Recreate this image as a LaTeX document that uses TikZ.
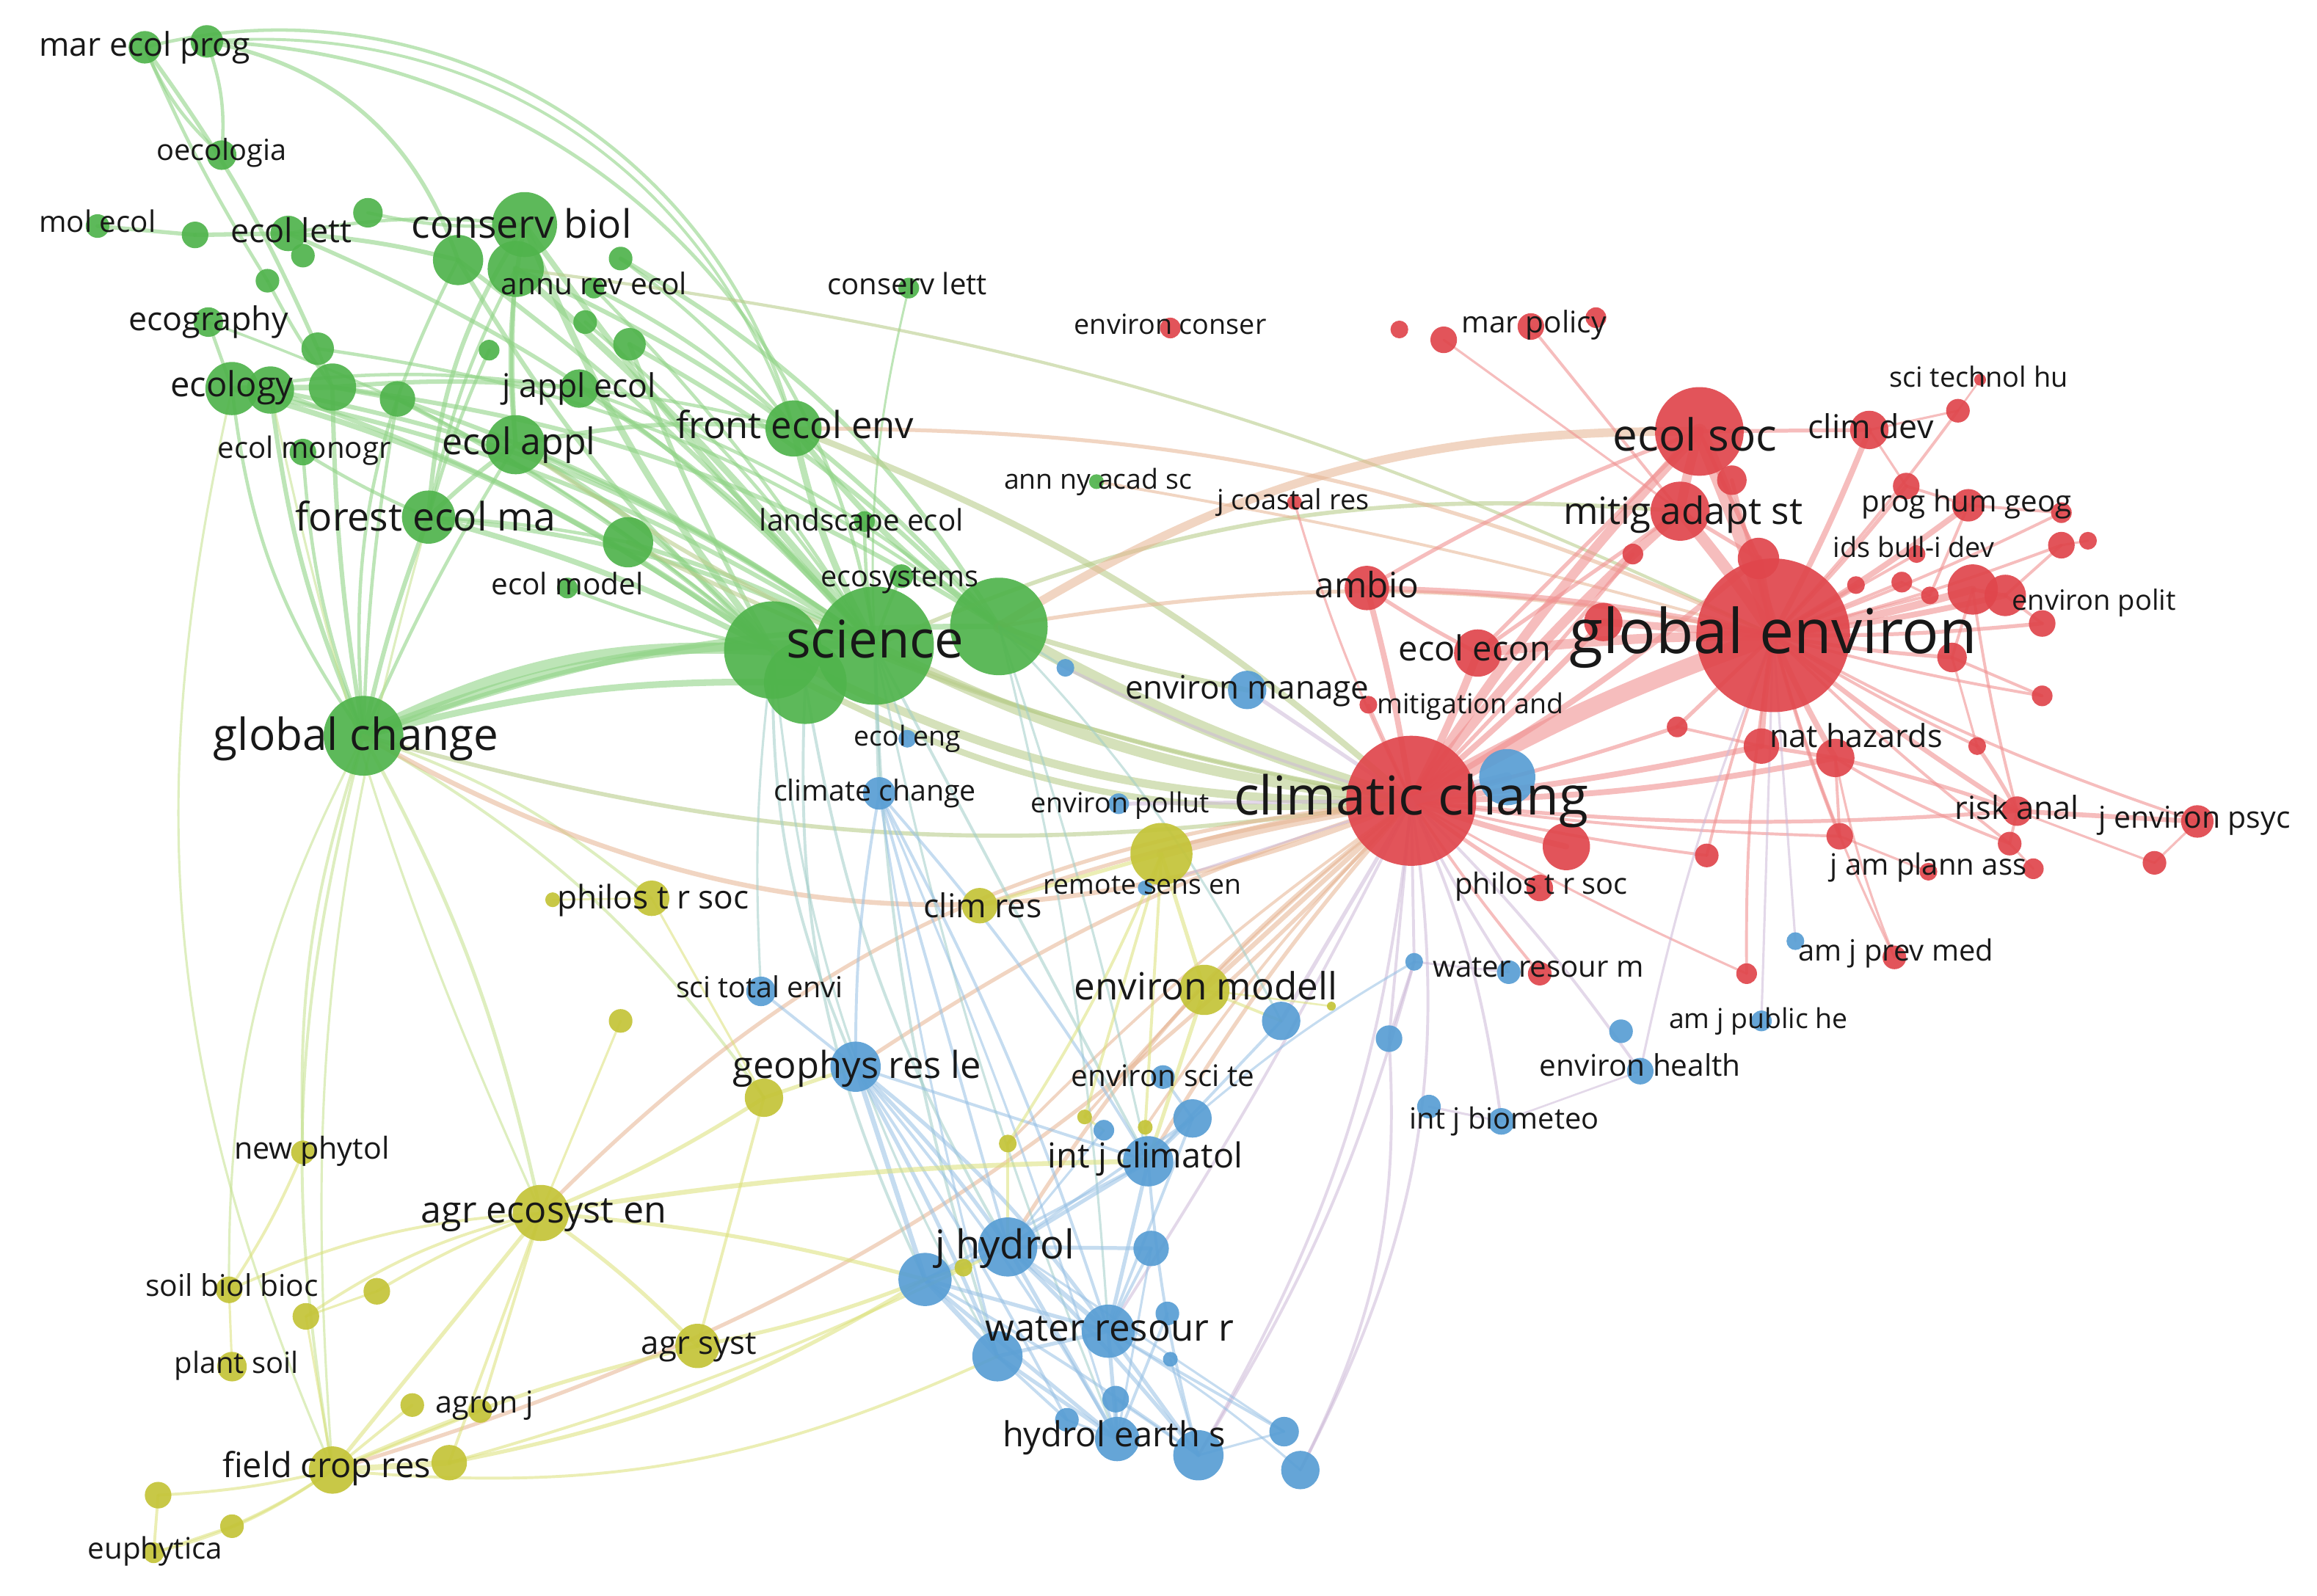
\documentclass[tikz,border=0pt]{standalone}
\usepackage{fontspec}
\setmainfont{Open Sans}
\definecolor{cG}{RGB}{80,180,76}
\definecolor{cR}{RGB}{224,70,76}
\definecolor{cB}{RGB}{88,158,212}
\definecolor{cY}{RGB}{196,196,56}
\definecolor{eG}{RGB}{145,212,135}
\definecolor{eGY}{RGB}{195,225,140}
\definecolor{eO}{RGB}{185,205,140}
\definecolor{eT}{RGB}{230,180,145}
\definecolor{eTe}{RGB}{160,205,200}
\definecolor{eR}{RGB}{240,145,145}
\definecolor{eL}{RGB}{205,185,215}
\definecolor{eB}{RGB}{150,192,228}
\definecolor{eY}{RGB}{220,225,120}
\definecolor{labc}{RGB}{24,24,24}
\pgfdeclarelayer{edges}
\pgfsetlayers{edges,main}
\tikzset{
  dot/.style={circle,inner sep=0pt,outer sep=0pt,fill opacity=0.92},
  lab/.style={anchor=base,inner sep=0pt,text=labc},
  ed/.style={line cap=round,draw opacity=0.55}
}
\newcommand\C[4]{\node[dot,fill=#4,minimum size={2*#3pt}] (#1) at (#2) {};}
\newcommand\fitt[2]{\setbox0=\hbox{\fontsize{10pt}{12pt}\selectfont #2}%
  \pgfmathsetmacro\lfs{10*#1/\the\wd0}%
  \fontsize{\lfs pt}{\lfs pt}\selectfont\raisebox{-0.5ex}{#2}}
\newcommand\lbl[4]{\node[lab] (#1) at (#2) {\fitt{#3}{#4}};}
\newcommand\edges[2]{\foreach \a/\b/\w/\c in {#2}
 {\draw[line width={\w*#1pt}] (\a.center) to[bend right=\c] (\b.center);}}
\begin{document}
\begin{tikzpicture}[x=1pt,y=-1pt]
\useasboundingbox (0,0) rectangle (1568,1080);
% ---------- green ----------
\C{g1}{98,32}{11}{cG}\C{g2}{140,28}{11}{cG}\C{g3}{150,105}{10}{cG}
\C{g4}{66,153}{8}{cG}\C{g5}{132,159}{9}{cG}\C{g6}{195,158}{12}{cG}
\C{g7}{205,173}{8}{cG}\C{g8}{249,144}{10}{cG}\C{g9}{181,190}{8}{cG}
\C{g10}{355,152}{22}{cG}\C{g11}{310,176}{17}{cG}\C{g12}{349,182}{19}{cG}
\C{g13}{420,175}{8}{cG}\C{g14}{402,195}{7}{cG}\C{g15}{396,218}{8}{cG}
\C{g16}{426,233}{11}{cG}\C{g17}{331,237}{7}{cG}\C{g18}{141,218}{10}{cG}
\C{g19}{215,236}{11}{cG}\C{g20}{157,263}{18}{cG}\C{g21}{183,264}{16}{cG}
\C{g22}{225,262}{16}{cG}\C{g23}{269,270}{12}{cG}\C{g24}{392,263}{13}{cG}
\C{g25}{205,306}{9}{cG}\C{g26}{349,301}{20}{cG}\C{g27}{537,290}{19}{cG}
\C{g28}{290,350}{18}{cG}\C{g29}{425,367}{17}{cG}\C{g30}{384,398}{7}{cG}
\C{g31}{585,353}{7}{cG}\C{g32}{610,390}{8}{cG}
\C{g33}{523,440}{33}{cG}\C{g34}{545,462}{28}{cG}\C{g35}{592,437}{40}{cG}
\C{g36}{676,424}{33}{cG}\C{g37}{246,498}{27}{cG}\C{g38}{615,195}{7}{cG}
\C{g39}{742,326}{5}{cG}
% ---------- blue ----------
\C{b1}{721,452}{6}{cB}\C{b2}{614,500}{6}{cB}\C{b3}{595,537}{11}{cB}
\C{b4}{757,544}{7}{cB}\C{b5}{775,601}{5}{cB}\C{b6}{844,467}{13}{cB}
\C{b7}{1020,526}{19}{cB}\C{b8}{515,671}{10}{cB}\C{b9}{579,722}{17}{cB}
\C{b10}{867,691}{13}{cB}\C{b11}{940,703}{9}{cB}\C{b12}{957,651}{6}{cB}
\C{b13}{1021,658}{8}{cB}\C{b14}{747,765}{7}{cB}\C{b15}{787,729}{8}{cB}
\C{b16}{807,757}{13}{cB}\C{b17}{777,786}{17}{cB}\C{b18}{682,844}{20}{cB}
\C{b19}{626,866}{18}{cB}\C{b20}{779,845}{12}{cB}\C{b21}{750,901}{18}{cB}
\C{b22}{675,918}{17}{cB}\C{b23}{790,889}{8}{cB}\C{b24}{792,920}{5}{cB}
\C{b25}{755,947}{9}{cB}\C{b26}{722,961}{8}{cB}\C{b27}{756,974}{15}{cB}
\C{b28}{811,985}{17}{cB}\C{b29}{869,969}{10}{cB}\C{b30}{880,995}{13}{cB}
\C{b31}{1215,637}{6}{cB}\C{b32}{1097,698}{8}{cB}\C{b33}{1192,691}{7}{cB}
\C{b34}{1110,725}{9}{cB}\C{b35}{967,749}{8}{cB}\C{b36}{1016,759}{9}{cB}
% ---------- yellow ----------
\C{y1}{786,578}{21}{cY}\C{y2}{441,608}{12}{cY}\C{y3}{374,609}{5}{cY}
\C{y4}{663,613}{12}{cY}\C{y5}{815,670}{17}{cY}\C{y6}{901,681}{3}{cY}
\C{y7}{420,691}{8}{cY}\C{y8}{517,743}{13}{cY}\C{y9}{682,774}{6}{cY}
\C{y10}{734,756}{5}{cY}\C{y11}{775,763}{5}{cY}\C{y12}{652,858}{6}{cY}
\C{y13}{205,780}{8}{cY}\C{y14}{366,821}{19}{cY}\C{y15}{155,873}{9}{cY}
\C{y16}{255,874}{9}{cY}\C{y17}{207,891}{9}{cY}\C{y18}{157,925}{10}{cY}
\C{y19}{472,911}{15}{cY}\C{y20}{279,951}{8}{cY}\C{y21}{325,955}{8}{cY}
\C{y22}{225,995}{16}{cY}\C{y23}{304,990}{12}{cY}\C{y24}{107,1012}{9}{cY}
\C{y25}{157,1033}{8}{cY}\C{y26}{104,1051}{7}{cY}
% ---------- red ----------
\C{r1}{792,222}{7}{cR}\C{r2}{947,223}{6}{cR}\C{r3}{977,230}{9}{cR}
\C{r4}{1036,221}{9}{cR}\C{r5}{1080,215}{7}{cR}\C{r6}{1150,292}{30}{cR}
\C{r7}{1325,278}{8}{cR}\C{r8}{1265,291}{13}{cR}\C{r9}{1137,346}{20}{cR}
\C{r10}{1172,325}{10}{cR}\C{r11}{1290,329}{9}{cR}\C{r12}{1332,342}{11}{cR}
\C{r13}{1395,347}{7}{cR}\C{r14}{1190,378}{14}{cR}\C{r15}{1105,375}{7}{cR}
\C{r16}{1297,375}{6}{cR}\C{r17}{1395,369}{9}{cR}\C{r18}{1413,366}{6}{cR}
\C{r19}{1256,396}{6}{cR}\C{r20}{1287,394}{7}{cR}\C{r21}{1306,403}{6}{cR}
\C{r22}{1335,399}{17}{cR}\C{r23}{1357,403}{14}{cR}\C{r24}{1382,422}{9}{cR}
\C{r25}{1321,445}{10}{cR}\C{r26}{1382,471}{7}{cR}\C{r27}{925,398}{15}{cR}
\C{r28}{1200,430}{52}{cR}\C{r29}{1085,421}{13}{cR}\C{r30}{1000,442}{16}{cR}
\C{r31}{926,477}{6}{cR}\C{r32}{955,542}{44}{cR}\C{r33}{1135,492}{7}{cR}
\C{r34}{1192,505}{12}{cR}\C{r35}{1242,513}{13}{cR}\C{r36}{1338,505}{6}{cR}
\C{r37}{1060,573}{16}{cR}\C{r38}{1155,579}{8}{cR}\C{r39}{1245,566}{9}{cR}
\C{r40}{1365,549}{10}{cR}\C{r41}{1360,571}{8}{cR}\C{r42}{1487,556}{11}{cR}
\C{r43}{1458,584}{8}{cR}\C{r44}{1305,590}{6}{cR}\C{r45}{1376,588}{7}{cR}
\C{r46}{1042,601}{9}{cR}\C{r47}{1042,659}{8}{cR}\C{r48}{1182,659}{7}{cR}
\C{r49}{1282,648}{8}{cR}\C{r50}{876,340}{5}{cR}\C{r51}{1340,257}{4}{cR}
% ---------- edges ----------
\begin{pgfonlayer}{edges}
\fill[white] (0,0) rectangle (1568,1080);
\begin{scope}[ed,draw=eG,draw opacity=0.6]
\edges{1.5}{g1/g3/1.5/12,g2/g3/1.5/-12,g1/g19/1.8/-6,g1/g9/1.5/4,g2/g11/1.8/-30,g2/g35/1.6/-40,g1/g27/1.5/-45,g2/g27/1.3/-38,
 g4/g5/1.8/0,g5/g6/2/0,g6/g11/2/-5,g6/g10/1.5/-8,g8/g10/1.5/8,g6/g35/1.8/-12,g9/g22/1.5/4,g18/g20/1.5/0,g19/g22/1.5/0,
 g20/g22/2.5/0,g22/g24/2/-5,g20/g24/1.5/-8,g22/g23/2/0,g23/g35/2/-8,g20/g33/2.5/-10,g21/g35/2/-12,g22/g36/2/-12,g24/g35/2/-8,
 g24/g36/1.5/-10,g26/g33/2.5/-8,g26/g35/2/-6,g28/g33/2.5/-6,g28/g35/2/-10,g29/g35/2/-6,g16/g36/2/-8,g13/g36/2/-14,g14/g27/1.8/-8,
 g15/g35/1.5/-8,g10/g33/3/8,g10/g35/2.5/4,g11/g33/2/8,g12/g35/3/-5,g12/g36/2/-12,g10/g28/2/14,g12/g28/1.5/8,g11/g37/1.5/16,
 g21/g37/2/8,g20/g37/1.5/14,g22/g37/2/4,g17/g28/1.5/4,g12/g26/2/4,g10/g26/2/8,g24/g27/1.5/-4,g26/g27/2/-8,g26/g28/2/4,
 g27/g35/3/8,g27/g36/2.5/8,g31/g35/1.5/4,g32/g35/1.5/4,g30/g33/1.5/4,g37/g33/5/-15,g37/g35/4/-12,g37/g36/2.5/-10,g37/g34/3/-8,
 g28/g37/2/4,g25/g37/1.5/8,g25/g28/1.5/4,g23/g37/1.5/4,g38/g35/1/8,g26/g37/1.5/4,g29/g28/1.5/4,g11/g35/2/-6,g20/g35/2/-10,
 g18/g33/1.2/-10,g19/g36/1.5/-14,g16/g33/2/4,g13/g27/1.5/-8,g21/g33/2/-8,g23/g33/2/-6,g14/g35/1.5/-6}
\end{scope}
\begin{scope}[ed,draw=eGY]
\edges{1.3}{g37/y13/1.5/10,g37/y14/1.8/-8,g37/y22/1.5/12,g37/y15/1.2/14,g37/y8/1.5/-12,g37/y2/1.5/-10,g20/y22/1.2/18,g28/y22/1.2/10,g21/y14/1.2/6}
\end{scope}
\begin{scope}[ed,draw=eO,draw opacity=0.6]
\edges{1.4}{g35/r32/5/10,g36/r32/6/6,g33/r32/4/14,g34/r32/3/16,g27/r32/3/-10,g36/b6/2.5/3,g35/r9/2/-14,
 g12/r28/1.5/-9,g29/r32/2/8,g26/r32/2/12,g37/r32/2/12}
\end{scope}
\begin{scope}[ed,draw=eT]
\edges{1.3}{g36/r6/4.5/-16,g37/r32/2.5/26,g39/r28/1.5/-3,g27/r28/2/-12,r32/y1/5/3,r32/y5/2.5/0,r32/y4/2/5,
 r32/y14/2/20,y22/r32/2/15,r32/y9/1.5/5,r32/y11/1.5/5,r32/y10/1.5/5,r32/b17/2/5,r32/b18/2/10,r32/b9/2/8,g36/r28/2/-10}
\end{scope}
\begin{scope}[ed,draw=eTe]
\edges{1.3}{g35/b3/2/0,g33/b9/1.5/12,g34/b18/1.5/10,g35/b22/1.5/8,g35/b17/1.5/0,g36/b21/1.2/-5,g35/b27/1.2/5,
 g34/b19/1.5/14,g36/b17/1.2/-3,g33/b8/1.2/5,g36/b10/1.2/-8,b2/g35/1.2/0,b1/g36/1.2/0,g33/b22/1.2/12}
\end{scope}
\begin{scope}[ed,draw=eR,draw opacity=0.6]
\edges{1.3}{r28/r6/8/3,r28/r9/6/3,r28/r8/3/3,r28/r7/1.5/3,r28/r11/2/3,r28/r12/3/3,r28/r14/4/0,r28/r17/1.5/3,
 r28/r22/4/3,r28/r23/3/3,r28/r24/2/3,r28/r25/2/3,r28/r26/1.5/3,r28/r34/3/3,r28/r35/3/3,r28/r36/1.5/3,r28/r40/2.5/3,
 r28/r39/2/3,r28/r38/1.5/3,r28/r30/5/3,r28/r29/4/0,r28/r27/3/5,r28/r32/9/5,r28/r33/2/0,r28/r19/1.5/0,r28/r20/1.5/0,
 r28/r16/1.5/0,r28/r42/1.5/5,r28/r41/1.5/3,r28/r21/1.5/0,r28/r48/1.5/5,r28/r13/1.5/3,r28/r10/2/0,
 r6/r9/5/3,r6/r32/5/5,r6/r27/2/5,r6/r14/2/0,r9/r32/5/5,r9/r4/1.5/0,r9/r3/1.2/0,r6/r8/2/0,r9/r30/2/0,r6/r30/2/0,
 r32/r30/4/3,r32/r27/3/3,r32/r37/3/3,r32/r34/3/3,r32/r35/3/5,r32/r40/2/5,r32/r46/2/3,r32/r31/1.5/0,r32/r15/2/3,
 r32/r33/2/3,r32/r14/3/5,r32/r38/1.5/3,r32/r39/1.5/3,r32/r48/1.2/3,r32/r29/3/3,r32/r47/1.5/3,r32/r50/1.2/-5,
 r40/r42/2.5/0,r40/r41/1.5/0,r40/r35/2/3,r40/r36/2/3,r35/r39/1.5/0,r39/r44/1.2/0,r41/r45/1.2/0,r35/r34/2/0,r34/r33/1.5/0,
 r12/r11/1.5/0,r12/r13/1.5/0,r12/r21/1.5/0,r22/r23/2/0,r23/r24/1.5/0,r17/r23/1.5/0,r18/r17/1.2/0,r26/r25/1.5/0,
 r25/r36/1.2/0,r22/r40/1.5/3,r35/r41/1.5/5,r8/r7/1.2/0,r14/r9/2/0,r14/r6/2/0,r27/r30/2/3,r43/r42/1.2/0,r22/r25/1.5/0,
 r8/r11/1.2/0,r20/r21/1.2/0,r7/r51/1/0,r35/r49/1.2/5,r28/r49/1.2/5,r40/r43/1.2/0}
\end{scope}
\begin{scope}[ed,draw=eL]
\edges{1.3}{r32/b13/1.5/3,r32/b36/1.5/-8,r32/b34/1.5/-5,r32/b30/1.5/-18,r32/b28/1.5/-12,r32/b11/1.5/0,
 r32/b12/1.5/0,r32/b10/2/0,r32/b7/5/0,r32/b6/2/0,r32/b4/2/0,r32/b21/1.5/-3,r28/b34/1.2/5,r28/b33/1.2/0,r28/b31/1.2/0,
 b12/b11/1.5/0,b11/b30/1.5/-15,b12/b28/1.5/-8,b35/b36/1.2/0,b13/b12/1.2/0,b1/r32/1.5/5,b5/r32/1.2/0,b36/b34/1/0}
\end{scope}
\begin{scope}[ed,draw=eB]
\edges{1.3}{b9/b18/2/-5,b9/b19/2.5/0,b9/b21/2/-8,b9/b22/2/-3,b9/b27/1.5/-5,b9/b26/1.5/-3,b19/b18/2/0,
 b19/b21/2/0,b19/b22/2.5/0,b19/b27/2/0,b19/b28/1.5/-3,b18/b21/2.5/0,b18/b27/2/0,b18/b28/2/-3,b18/b17/2/0,b18/b20/2/0,
 b21/b27/2/0,b21/b28/2/0,b21/b22/2/0,b22/b27/2/0,b22/b26/1.5/0,b17/b21/2/0,b17/b16/2/0,b16/b15/1.5/0,b17/b28/1.5/5,
 b20/b21/1.5/0,b23/b27/1.5/0,b24/b28/1.2/0,b25/b27/1.5/0,b29/b21/1.5/0,b29/b18/1.2/0,b30/b21/1.2/5,b3/b9/1.5/5,
 b3/b18/1.5/0,b3/b21/1.5/-5,b3/b17/1.5/-5,b3/b22/1.2/3,b3/b27/1.2/-3,b8/b9/1.5/0,b17/b19/1.5/0,b16/b18/1.5/0,
 b10/b17/1.5/0,b14/b18/1.2/0,b9/b17/1.5/0,b25/b28/1.2/0,b26/b27/1.2/0,b16/b21/1.5/0,b20/b27/1.2/0,b29/b28/1.2/0,b12/b16/1.2/5}
\end{scope}
\begin{scope}[ed,draw=eY]
\edges{1.3}{y14/y22/2/0,y14/y15/1.5/10,y14/y16/1.5/5,y14/y17/1.5/10,y14/y19/2/-5,y14/y21/1.5/0,y14/y23/1.5/0,
 y14/y8/2/5,y14/b19/2/-5,y14/b17/2.5/-4,y22/y23/3/0,y22/y24/1.5/-5,y22/y25/1.5/-5,y22/y26/1.5/-10,y22/y20/1.5/0,
 y22/y21/1.5/0,y22/y19/2/-5,y23/b19/2/10,y22/b22/1.5/15,y23/b18/1.5/5,y19/b19/2/5,y19/y8/1.5/0,y24/y26/1.5/0,y25/y26/1.2/0,
 y13/y15/1.5/-5,y8/b9/2/0,y1/y5/2/0,y1/y10/1.5/0,y1/y9/1.5/-5,y5/b17/2/0,y5/b10/1.5/0,y12/b19/1.5/0,y9/b18/1.5/0,
 y7/y14/1.2/0,y3/y2/1/0,y15/y18/1.2/0,y2/y8/1.2/0,y16/y17/1.2/0,y17/y22/1.2/0,y1/y11/1.5/0,y11/b17/1.5/0,y10/b14/1.2/0,
 y6/y5/1/0,y1/y4/2/0}
\end{scope}
\end{pgfonlayer}
% ---------- labels ----------
\lbl{lmep}{98,32}{143}{mar ecol prog}
\lbl{loec}{150,103}{88}{oecologia}
\lbl{lmol}{66,152}{79}{mol ecol}
\lbl{lelt}{197,158}{82}{ecol lett}
\lbl{lcb}{353,154}{149}{conserv biol}
\lbl{lare}{402,194}{126}{annu rev ecol}
\lbl{lcl}{614,194}{108}{conserv lett}
\lbl{legr}{141,218}{108}{ecography}
\lbl{lecy}{157,262}{83}{ecology}
\lbl{ljae}{392,263}{104}{j appl ecol}
\lbl{lemo}{206,305}{117}{ecol monogr}
\lbl{leap}{351,301}{104}{ecol appl}
\lbl{lfee}{538,290}{161}{front ecol env}
\lbl{lfem}{288,352}{176}{forest ecol ma}
\lbl{lemd}{384,397}{103}{ecol model}
\lbl{llse}{583,354}{138}{landscape ecol}
\lbl{lesy}{609,392}{107}{ecosystems}
\lbl{lsci}{592,436}{120}{science}
\lbl{lgc}{241,500}{193}{global change}
\lbl{lanas}{743,326}{127}{ann ny acad sc}
\lbl{lenc}{792,221}{130}{environ conser}
\lbl{lmp}{1038,220}{98}{mar policy}
\lbl{ljcr}{875,340}{103}{j coastal res}
\lbl{les}{1147,297}{111}{ecol soc}
\lbl{lsth}{1339,257}{121}{sci technol hu}
\lbl{lcd}{1266,291}{85}{clim dev}
\lbl{lmas}{1139,348}{162}{mitig adapt st}
\lbl{lphg}{1331,341}{142}{prog hum geog}
\lbl{libd}{1295,372}{109}{ids bull-i dev}
\lbl{lamb}{925,398}{70}{ambio}
\lbl{lep}{1417,408}{111}{environ polit}
\lbl{lge}{1200,431}{276}{global environ}
\lbl{lee}{998,441}{103}{ecol econ}
\lbl{lem}{844,467}{165}{environ manage}
\lbl{lma}{995,478}{126}{mitigation and}
\lbl{lnh}{1256,500}{117}{nat hazards}
\lbl{leng}{614,500}{72}{ecol eng}
\lbl{lclc}{592,537}{137}{climate change}
\lbl{lepo}{758,545}{121}{environ pollut}
\lbl{lcc}{955,542}{240}{climatic chang}
\lbl{lra}{1365,549}{84}{risk anal}
\lbl{ljep}{1485,555}{130}{j environ psyc}
\lbl{ljpa}{1305,587}{133}{j am plann ass}
\lbl{lptg}{442,609}{130}{philos t r soc}
\lbl{lrse}{773,600}{134}{remote sens en}
\lbl{lcr}{665,615}{80}{clim res}
\lbl{lptr}{1043,600}{117}{philos t r soc}
\lbl{lajpm}{1283,645}{132}{am j prev med}
\lbl{lwrm}{1041,656}{143}{water resour m}
\lbl{lste}{514,670}{113}{sci total envi}
\lbl{lemod}{816,670}{178}{environ modell}
\lbl{lajph}{1190,691}{121}{am j public he}
\lbl{lgrl}{580,723}{168}{geophys res le}
\lbl{lest}{787,730}{124}{environ sci te}
\lbl{leh}{1110,723}{136}{environ health}
\lbl{lijb}{1018,759}{128}{int j biometeo}
\lbl{lnp}{211,779}{105}{new phytol}
\lbl{lijc}{775,784}{132}{int j climatol}
\lbl{lagr}{368,821}{166}{agr ecosyst en}
\lbl{ljh}{680,845}{94}{j hydrol}
\lbl{lsbb}{157,872}{117}{soil biol bioc}
\lbl{las}{473,911}{78}{agr syst}
\lbl{lps}{160,924}{84}{plant soil}
\lbl{laj}{328,951}{66}{agron j}
\lbl{lwrr}{751,901}{168}{water resour r}
\lbl{lhes}{754,973}{151}{hydrol earth s}
\lbl{lfcr}{221,994}{141}{field crop res}
\lbl{leu}{105,1050}{91}{euphytica}
\end{tikzpicture}
\end{document}
